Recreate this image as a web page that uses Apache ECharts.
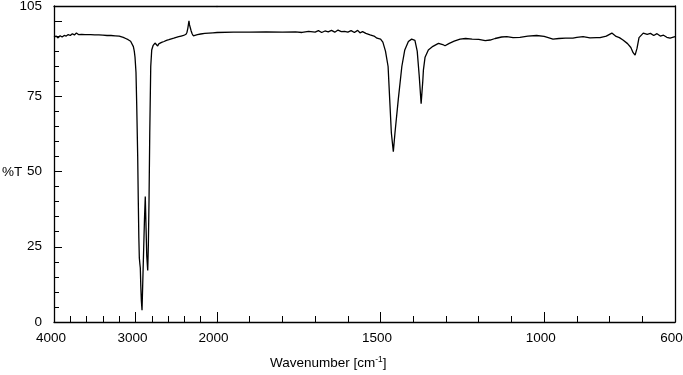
<!DOCTYPE html>
<html>
<head>
<meta charset="utf-8">
<script src="https://cdn.jsdelivr.net/npm/echarts@6/dist/echarts.min.js"></script>
<style>
html,body{margin:0;padding:0;background:#fff}
#main{width:683px;height:375px}
</style>
</head>
<body>
<div id="main"></div>
<script>
// wavenumber (cm-1) and %T, split at 2000 where the scale changes
var wnHigh = [4000,3975,3950,3925,3900,3875,3850,3825,3800,3775,3750,3725,3700,3680,3660,3640,3620,3600,
  3550,3500,3450,3400,3350,3300,3250,3200,3150,3120,3090,3060,3040,3026,3015,3006,2994,2985,2973,2966,
  2959,2953,2947,2941,2935,2928,2920,2912,2900,2890,2880,2872,2862,2850,2842,2834,2825,2813,2801,2785,
  2770,2761,2745,2728,2715,2700,2680,2650,2620,2590,2560,2530,2500,2470,2440,2410,2393,2380,2368,2358,
  2350,2344,2338,2332,2326,2318,2305,2291,2270,2240,2200,2150,2100,2050,2000];
var tHigh = [94.6,95.0,94.4,95.1,94.7,95.2,95.0,95.5,95.2,95.8,95.4,96.0,95.5,96.1,95.6,95.9,95.5,95.7,
  95.5,95.4,95.4,95.3,95.2,95.2,95.1,95.0,94.6,94.2,93.8,93.3,92.7,91.5,90.0,88.0,83.0,72.0,55.0,40.6,
  28.0,21.3,19.5,18.0,12.0,7.0,3.9,12.0,24.0,34.0,41.7,33.0,22.0,17.1,26.0,40.6,62.8,84.9,90.4,91.8,
  92.3,92.7,92.2,91.7,92.4,92.6,92.9,93.2,93.6,93.8,94.1,94.3,94.6,94.8,95.0,95.2,95.3,95.6,96.3,97.6,
  99.0,100.1,98.8,99.2,97.6,96.8,95.8,95.1,95.2,95.5,95.7,95.9,96.0,96.1,96.2];

var wnLow = [2000,1950,1900,1850,1800,1760,1740,1720,1700,1690,1680,1670,1660,1650,1640,1630,1620,1610,
  1600,1590,1580,1570,1563,1555,1545,1532,1520,1511,1500,1493,1485,1477,1472,1467,1461,1456,1446,1435,
  1426,1415,1405,1395,1388,1382,1376,1371,1369,1364,1354,1340,1323,1310,1303,1290,1275,1257,1240,1220,
  1200,1180,1165,1150,1130,1114,1095,1074,1050,1023,1000,985,973,955,935,912,900,881,860,840,829,810,
  793,780,770,759,745,735,728,722,716,710,697,685,675,665,655,645,635,625,615,600];
var tLow = [96.2,96.3,96.3,96.4,96.3,96.4,96.2,96.6,96.3,96.8,96.2,96.7,96.4,96.9,96.3,97.0,96.5,96.6,
  96.3,96.8,96.2,96.9,96.1,96.5,95.9,95.4,95.0,94.3,94.0,93.0,90.0,84.9,73.8,62.8,56.6,62.8,73.8,84.9,
  90.4,93.2,94.0,93.6,90.0,82.0,72.5,80.0,83.8,88.0,90.4,91.6,92.6,92.2,91.8,92.6,93.3,94.0,94.2,94.0,
  93.9,93.5,93.7,94.2,94.7,94.8,94.5,94.6,95.0,95.2,94.9,94.4,94.0,94.2,94.3,94.3,94.6,94.8,94.4,94.5,
  94.5,95.0,96.0,94.9,94.5,93.7,92.5,91.2,89.5,88.7,91.0,94.5,96.0,95.6,95.9,95.2,95.8,95.0,95.3,94.6,
  94.3,94.8];

var xLabelsLow = [2000,1500,1000,600];
var xMajorLow = [2000,1500,1000];
var yLabels = [0,25,50,75,105];
var yMajor = [25,50,75,100];

function pairs(xs, ys){
  var out = [];
  for (var i = 0; i < xs.length; i++) out.push([xs[i], ys[i]]);
  return out;
}
function plain(v){ return String(v); }

var black = '#000';
var lineW = {color: black, width: 1.3};
var tickW = {color: black, width: 1};
var font = 'Liberation Sans, Arial, sans-serif';
var fs = 13.5;

var myChart = echarts.init(document.getElementById('main'));
var option = {
  animation: false,
  backgroundColor: '#fff',
  title: {
    text: 'Wavenumber [cm{sup|-1}]',
    left: 270,
    top: 355,
    padding: 0,
    textStyle: {
      color: black, fontSize: fs, fontWeight: 'normal', fontFamily: font, lineHeight: 16,
      rich: {
        sup: {fontSize: 8.5, color: black, fontFamily: font, verticalAlign: 'top', lineHeight: 16}
      }
    }
  },
  // y axis name, placed level with the 50 label as in the original
  graphic: [{
    type: 'text', left: 2, top: 165,
    style: {text: '%T', fill: black, font: fs + 'px ' + font}
  }],
  grid: [
    {left: 54, top: 6, width: 163, height: 316, outerBoundsMode: 'none', containLabel: false},
    {left: 217, top: 6, width: 458, height: 316, outerBoundsMode: 'none', containLabel: false}
  ],
  xAxis: [
    {
      gridIndex: 0, type: 'value', position: 'bottom', inverse: true, min: 2000, max: 4000, interval: 1000,
      axisLine: {onZero: false, lineStyle: lineW},
      axisTick: {inside: true, length: 10, lineStyle: tickW},
      minorTick: {show: true, splitNumber: 5, length: 6, lineStyle: tickW},
      axisLabel: {showMinLabel: false, formatter: plain, color: black, fontSize: fs, fontFamily: font,
        margin: 9, padding: [0, 6, 0, 0]},
      splitLine: {show: false}
    },
    {
      gridIndex: 1, type: 'value', position: 'bottom', inverse: true, min: 600, max: 2000, interval: 100,
      axisLine: {onZero: false, lineStyle: lineW},
      axisTick: {inside: true, length: 6, lineStyle: tickW},
      axisLabel: {customValues: xLabelsLow, formatter: plain, color: black, fontSize: fs, fontFamily: font,
        margin: 9, padding: [0, 7, 0, 0]},
      splitLine: {show: false}
    },
    {
      gridIndex: 1, type: 'value', position: 'bottom', inverse: true, min: 600, max: 2000,
      axisLine: {show: false, onZero: false},
      axisTick: {customValues: xMajorLow, inside: true, length: 10, lineStyle: tickW},
      axisLabel: {show: false},
      splitLine: {show: false}
    },
    {
      gridIndex: 0, type: 'value', position: 'top', inverse: true, min: 2000, max: 4000,
      axisLine: {onZero: false, lineStyle: lineW}, axisTick: {show: false}, axisLabel: {show: false},
      splitLine: {show: false}
    },
    {
      gridIndex: 1, type: 'value', position: 'top', inverse: true, min: 600, max: 2000,
      axisLine: {onZero: false, lineStyle: lineW}, axisTick: {show: false}, axisLabel: {show: false},
      splitLine: {show: false}
    }
  ],
  yAxis: [
    {
      gridIndex: 0, type: 'value', position: 'left', min: 0, max: 105, interval: 5,
      axisLine: {show: true, onZero: false, lineStyle: lineW},
      axisTick: {show: true, inside: true, length: 5, lineStyle: tickW},
      axisLabel: {customValues: yLabels, color: black, fontSize: fs, fontFamily: font, margin: 12},
      splitLine: {show: false}
    },
    {
      gridIndex: 0, type: 'value', position: 'left', min: 0, max: 105,
      axisLine: {show: false, onZero: false},
      axisTick: {show: true, customValues: yMajor, inside: true, length: 8, lineStyle: tickW},
      axisLabel: {show: false},
      splitLine: {show: false}
    },
    {
      gridIndex: 1, type: 'value', position: 'right', min: 0, max: 105,
      axisLine: {show: true, onZero: false, lineStyle: lineW},
      axisTick: {show: false}, axisLabel: {show: false},
      splitLine: {show: false}
    }
  ],
  series: [
    {
      type: 'line', xAxisIndex: 0, yAxisIndex: 0, data: pairs(wnHigh, tHigh),
      showSymbol: false, lineStyle: {color: black, width: 1.3}
    },
    {
      type: 'line', xAxisIndex: 1, yAxisIndex: 2, data: pairs(wnLow, tLow),
      showSymbol: false, lineStyle: {color: black, width: 1.3}
    }
  ]
};
myChart.setOption(option);
</script>
</body>
</html>
